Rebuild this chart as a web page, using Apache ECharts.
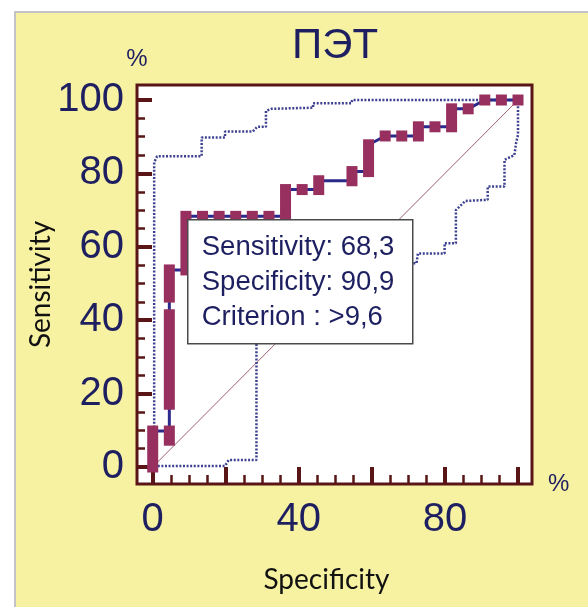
<!DOCTYPE html>
<html>
<head>
<meta charset="utf-8">
<script src="https://cdn.jsdelivr.net/npm/echarts@6/dist/echarts.min.js"></script>
<style>
  html, body { margin: 0; padding: 0; background: #fff; }
  #main { width: 588px; height: 607px; }
</style>
</head>
<body>
<div id="main"></div>
<script>
// ROC curve (100 - specificity, sensitivity), step points
const rocLine = [
  [0, 0], [0, 9.8], [4.55, 9.8], [4.55, 53.7], [9.09, 53.7], [9.09, 68.3],
  [13.64, 68.3], [18.18, 68.3], [22.73, 68.3], [27.27, 68.3], [31.82, 68.3],
  [36.36, 68.3], [36.36, 75.6], [40.91, 75.6], [45.45, 75.6], [45.45, 78.0],
  [54.55, 78.0], [54.55, 80.5], [59.09, 80.5], [59.09, 87.8], [63.64, 90.2],
  [68.18, 90.2], [72.73, 90.2], [72.73, 92.7], [77.27, 92.7], [81.82, 92.7],
  [81.82, 97.6], [86.36, 97.6], [90.91, 100], [95.45, 100], [100, 100]
]
// point markers: [x, lowest y, highest y] of each run of points
const rocMarks = [
  [0, 0, 9.8], [4.55, 7.3, 9.8], [4.55, 17.1, 41.5], [4.55, 46.3, 53.7],
  [9.09, 53.7, 68.3], [13.64, 68.3, 68.3], [18.18, 68.3, 68.3], [22.73, 68.3, 68.3],
  [27.27, 68.3, 68.3], [31.82, 68.3, 68.3], [36.36, 68.3, 75.6], [40.91, 75.6, 75.6],
  [45.45, 75.6, 78.0], [54.55, 78.0, 80.5], [59.09, 80.5, 87.8], [63.64, 90.2, 90.2],
  [68.18, 90.2, 90.2], [72.73, 90.2, 92.7], [77.27, 92.7, 92.7], [81.82, 92.7, 97.6],
  [86.36, 97.6, 97.6], [90.91, 100, 100], [95.45, 100, 100], [100, 100, 100]
]
// 95% confidence bounds
const upperCI = [
  [0.4, 0], [0.4, 83], [1.2, 84.7], [13.4, 84.7], [13.4, 89.8], [19.8, 89.8],
  [19.8, 91.4], [27.4, 91.4], [28.6, 92.7], [31, 92.7], [31, 97], [32.5, 97.6],
  [43.9, 97.9], [43.9, 99.1], [54.4, 99.1], [54.6, 100], [100, 100]
]
const lowerCI = [
  [0.4, 0.3], [19.8, 0.3], [20.8, 1.9], [28.4, 1.9], [28.4, 36], [40, 45],
  [55, 52], [65, 55.5], [72.2, 55.5], [72.6, 58.2], [79.9, 58.2], [79.9, 61],
  [83, 61], [83, 70], [85.6, 72.5], [91.7, 72.8], [91.7, 76.4], [96.3, 76.4],
  [96.3, 83.7], [99, 85], [99.5, 88.4], [100, 90.5], [100, 100]
]
const diagonal = [[0, 0], [100, 100]]

const majorTicks = [0, 20, 40, 60, 80, 100]
const minorTicks = [5, 10, 15, 25, 30, 35, 45, 50, 55, 65, 70, 75, 85, 90, 95]
const xLabels = [0, 40, 80]
const yLabels = [0, 20, 40, 60, 80, 100]

const infoText = ['Sensitivity: 68,3', 'Specificity: 90,9', 'Criterion : >9,6']

const frameColor = '#5a1616'
const navy = '#1d1f60'

const chart = echarts.init(document.getElementById('main'))

function axisBase(isX) {
  return {
    type: 'value',
    min: isX ? -4.3 : -4.63,
    max: isX ? 103.83 : 104.09,
    splitLine: { show: false },
    axisLine: { show: false, onZero: false },
    nameMoveOverlap: false
  }
}

const option = {
  animation: false,
  backgroundColor: '#ffffff',
  grid: {
    left: 137, right: 56, top: 85, bottom: 123,
    show: true,
    backgroundColor: '#ffffff',
    borderColor: frameColor,
    borderWidth: 3
  },
  graphic: [
    {
      type: 'rect', z: -10, silent: true,
      shape: { x: 15, y: 12, width: 600, height: 620 },
      style: { fill: '#f7f1a2', stroke: '#c4c4c8', lineWidth: 2 }
    },
    {
      type: 'text', left: 292, top: 25,
      style: { text: 'ПЭТ', font: '42px "Liberation Sans", Arial, sans-serif', fill: navy }
    },
    {
      type: 'group', left: 187, top: 219, z: 100,
      children: [
        {
          type: 'rect', z: 100,
          shape: { x: 0, y: 0, width: 225, height: 124 },
          style: { fill: '#ffffff', stroke: '#4a4a4a', lineWidth: 1.5 }
        },
        {
          type: 'text', z: 101, x: 14, y: 10,
          style: {
            text: infoText.join('\n'),
            font: '27.5px "Liberation Sans", Arial, sans-serif',
            lineHeight: 35,
            fill: navy
          }
        }
      ]
    }
  ],
  xAxis: [
    Object.assign(axisBase(true), {
      position: 'bottom',
      name: '%',
      nameLocation: 'end',
      nameGap: 16,
      nameTextStyle: { fontSize: 24, color: navy, fontFamily: 'Liberation Sans' },
      axisTick: {
        inside: true, length: 17, customValues: majorTicks,
        lineStyle: { color: frameColor, width: 4 }
      },
      axisLabel: {
        customValues: xLabels, margin: 16,
        fontSize: 40, color: navy, fontFamily: 'Liberation Sans'
      }
    }),
    Object.assign(axisBase(true), {
      position: 'bottom',
      name: 'Specificity',
      nameLocation: 'middle',
      nameGap: 82,
      nameTextStyle: {
        fontSize: 28, color: '#111', fontFamily: 'Lato', padding: [0, 16, 0, 0]
      },
      axisTick: {
        inside: true, length: 9, customValues: minorTicks,
        lineStyle: { color: frameColor, width: 2.5 }
      },
      axisLabel: { show: false }
    })
  ],
  yAxis: [
    Object.assign(axisBase(false), {
      position: 'left',
      name: '%',
      nameLocation: 'end',
      nameGap: 14,
      nameTextStyle: { fontSize: 24, color: navy, fontFamily: 'Liberation Sans' },
      axisTick: {
        inside: true, length: 15, customValues: majorTicks,
        lineStyle: { color: frameColor, width: 4 }
      },
      axisLabel: {
        customValues: yLabels, margin: 13,
        fontSize: 40, color: navy, fontFamily: 'Liberation Sans'
      }
    }),
    Object.assign(axisBase(false), {
      position: 'left',
      name: 'Sensitivity',
      nameLocation: 'middle',
      nameGap: 82,
      nameRotate: 90,
      nameTextStyle: { fontSize: 28, color: '#111', fontFamily: 'Lato' },
      axisTick: {
        inside: true, length: 8, customValues: minorTicks,
        lineStyle: { color: frameColor, width: 2.5 }
      },
      axisLabel: { show: false }
    })
  ],
  series: [
    {
      type: 'line', data: diagonal, symbol: 'none', z: 1,
      lineStyle: { color: '#a0606e', width: 1 }
    },
    {
      type: 'line', data: upperCI, symbol: 'none', z: 2,
      lineStyle: { color: '#3d4190', width: 2.5, type: [2, 1.6] }
    },
    {
      type: 'line', data: lowerCI, symbol: 'none', z: 2,
      lineStyle: { color: '#3d4190', width: 2.5, type: [2, 1.6] }
    },
    {
      type: 'line', data: rocLine, symbol: 'none', z: 3,
      lineStyle: { color: '#2b2a8c', width: 3 }
    },
    {
      type: 'custom', z: 4,
      data: rocMarks,
      encode: { x: 0, y: [1, 2] },
      renderItem: function (params, api) {
        const lo = api.coord([api.value(0), api.value(1)])
        const hi = api.coord([api.value(0), api.value(2)])
        return {
          type: 'rect',
          shape: { x: lo[0] - 5.5, y: hi[1] - 5.5, width: 11, height: lo[1] - hi[1] + 11 },
          style: { fill: '#97305f' }
        }
      }
    }
  ]
}

chart.setOption(option)
</script>
</body>
</html>
